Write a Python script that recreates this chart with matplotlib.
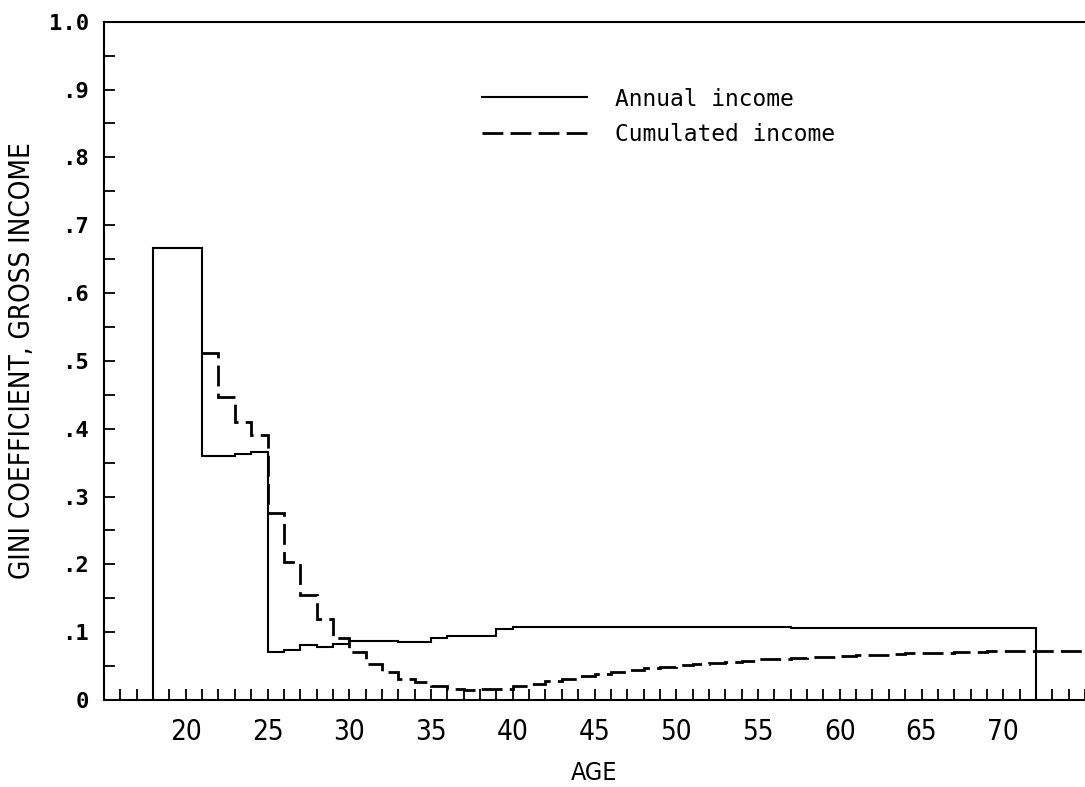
import matplotlib
matplotlib.use('Agg')
import matplotlib.pyplot as plt
from matplotlib.ticker import MultipleLocator
from matplotlib import font_manager

# ages at which each one-year step starts
ageAnnual = list(range(18, 72))
ageCumul = list(range(21, 75))

# gini coefficient, annual gross income (one value per year, 18..71)
giniAnnual = [0.667, 0.667, 0.667,
              0.360, 0.360, 0.363, 0.366,
              0.071, 0.074, 0.081, 0.078, 0.083,
              0.087, 0.087, 0.087, 0.086, 0.086,
              0.091, 0.094, 0.094, 0.094, 0.104,
              0.108, 0.108, 0.107, 0.107, 0.107, 0.107, 0.107, 0.107, 0.107, 0.107,
              0.107, 0.107, 0.107, 0.107, 0.107, 0.107, 0.107, 0.106, 0.106, 0.106,
              0.106, 0.106, 0.106, 0.106, 0.106, 0.106, 0.106, 0.106, 0.106, 0.106,
              0.106, 0.106]

# gini coefficient, cumulated gross income (one value per year, 21..74)
giniCumul = [0.512, 0.447, 0.410, 0.390,
             0.275, 0.204, 0.155, 0.119, 0.092,
             0.071, 0.053, 0.042, 0.031, 0.026,
             0.020, 0.017, 0.015, 0.016, 0.017,
             0.020, 0.024, 0.028, 0.031, 0.035,
             0.039, 0.042, 0.045, 0.047, 0.049,
             0.051, 0.053, 0.055, 0.056, 0.058,
             0.060, 0.061, 0.062, 0.063, 0.064,
             0.065, 0.066, 0.067, 0.068, 0.069,
             0.070, 0.070, 0.071, 0.071, 0.072,
             0.072, 0.073, 0.073, 0.073, 0.073]

xTicks = [20, 25, 30, 35, 40, 45, 50, 55, 60, 65, 70]
yTicks = [0.0, 0.1, 0.2, 0.3, 0.4, 0.5, 0.6, 0.7, 0.8, 0.9, 1.0]
yLabels = ['0', '.1', '.2', '.3', '.4', '.5', '.6', '.7', '.8', '.9', '1.0']

# condensed face for the axis texts, mono for the numbers and legend
narrow = font_manager.FontProperties(family='DejaVu Sans', stretch='condensed')
mono = ['DejaVu Sans Mono', 'DejaVu Sans']

fig = plt.figure(figsize=(10.85, 7.87), dpi=100)
ax = fig.add_axes([0.0959, 0.1105, 0.9041, 0.8619])

# annual income: closed outline down to zero at both ends
edgesA = ageAnnual + [ageAnnual[-1] + 1]
ax.stairs(giniAnnual, edgesA, baseline=0, color='black', linewidth=1.5,
          label='Annual income')

# cumulated income: open step line
edgesC = ageCumul + [ageCumul[-1] + 1]
ax.stairs(giniCumul, edgesC, baseline=None, color='black', linewidth=2.0,
          linestyle=(0, (7.5, 2.6)), label='Cumulated income')

ax.set_xlim(15, 75)
ax.set_ylim(0, 1.0)

ax.set_xticks(xTicks)
ax.set_xticklabels([str(t) for t in xTicks], fontproperties=narrow)
for lab in ax.get_xticklabels():
    lab.set_fontsize(20)
ax.xaxis.set_minor_locator(MultipleLocator(1))
ax.set_yticks(yTicks)
ax.set_yticklabels(yLabels, fontfamily=mono, fontsize=16, fontweight='bold')
ax.yaxis.set_minor_locator(MultipleLocator(0.05))

ax.tick_params(axis='x', which='both', direction='in', length=8, width=1.3,
               pad=13, top=False)
ax.tick_params(axis='y', which='both', direction='in', length=8, width=1.3,
               pad=11, right=False)

for side in ['left', 'bottom', 'top']:
    ax.spines[side].set_linewidth(1.5)
ax.spines['right'].set_visible(False)

ax.set_xlabel('AGE', fontproperties=narrow, labelpad=11)
ax.xaxis.label.set_fontsize(18)
ax.set_ylabel('GINI COEFFICIENT, GROSS INCOME', fontproperties=narrow,
              labelpad=9)
ax.yaxis.label.set_fontsize(20)

leg = ax.legend(loc='upper left', bbox_to_anchor=(0.385, 0.903),
                frameon=False, handlelength=4.6, handletextpad=1.2,
                labelspacing=0.55, borderpad=0, borderaxespad=0,
                prop={'family': mono, 'size': 16.5})

fig.savefig('out.png', dpi=100, facecolor='white')
